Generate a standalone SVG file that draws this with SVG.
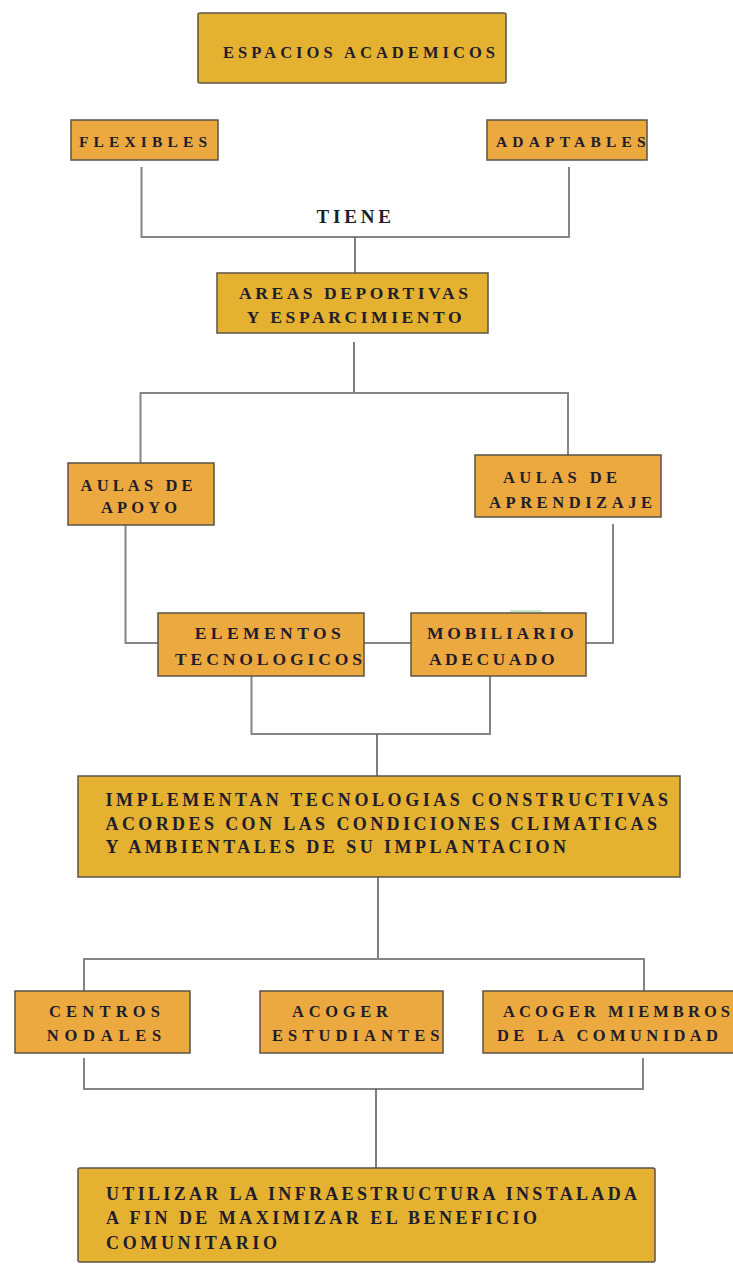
<svg xmlns="http://www.w3.org/2000/svg" width="733" height="1267" viewBox="0 0 733 1267">
  <style>
    .gold { fill: #E4B131; stroke: #5b5346; stroke-width: 1.5; }
    .orange { fill: #EBA940; stroke: #5b5346; stroke-width: 1.5; }
    .lbl { font-family: "Liberation Serif", "Times New Roman", serif; font-weight: bold; fill: #1f1d2b; }
    .conn { fill: none; stroke: #858585; stroke-width: 2; }
    .stem { fill: none; stroke: #5e5e5e; stroke-width: 1.6; }
  </style>
  <rect width="733" height="1267" fill="#ffffff"/>

  <!-- connectors -->
  <g id="connectors">
    <polyline class="conn" points="141.5,167 141.5,237 569,237 569,167"/>
    <line class="stem" x1="355" y1="237" x2="355" y2="273"/>

    <line class="stem" x1="354" y1="342" x2="354" y2="393"/>
    <polyline class="conn" points="140.5,463 140.5,393 568,393 568,455"/>

    <polyline class="conn" points="125.5,525 125.5,643 158,643"/>
    <line class="conn" x1="364" y1="643" x2="411" y2="643"/>
    <polyline class="conn" points="613,524 613,643 586,643"/>

    <polyline class="conn" points="251.5,676 251.5,734 490,734 490,676"/>
    <line class="stem" x1="377" y1="734" x2="377" y2="776"/>

    <line class="stem" x1="378" y1="877" x2="378" y2="959"/>
    <polyline class="conn" points="84,991 84,959 644,959 644,991"/>

    <polyline class="conn" points="84,1058 84,1089 643,1089 643,1058"/>
    <line class="stem" x1="376" y1="1089" x2="376" y2="1168"/>

    <text class="lbl" x="316.4" y="223" font-size="19" textLength="74.6" lengthAdjust="spacing">TIENE</text>
  </g>

  <g id="espacios">
    <rect class="gold" x="198" y="13" width="308" height="70" rx="2"/>
    <text class="lbl" x="223" y="57.5" font-size="16.5" textLength="272" lengthAdjust="spacing">ESPACIOS ACADEMICOS</text>
  </g>

  <g id="flexibles">
    <rect class="orange" x="71" y="120" width="147" height="40"/>
    <text class="lbl" x="79" y="147" font-size="15.5" textLength="128" lengthAdjust="spacing">FLEXIBLES</text>
  </g>

  <g id="adaptables">
    <rect class="orange" x="487" y="120" width="160" height="40"/>
    <text class="lbl" x="496" y="147" font-size="15.5" textLength="149.5" lengthAdjust="spacing">ADAPTABLES</text>
  </g>

  <g id="areas">
    <rect class="gold" x="217" y="273" width="271" height="60"/>
    <text class="lbl" x="239" y="299" font-size="17.5" textLength="229" lengthAdjust="spacing">AREAS DEPORTIVAS</text>
    <text class="lbl" x="246.7" y="323" font-size="17.5" textLength="215" lengthAdjust="spacing">Y ESPARCIMIENTO</text>
  </g>

  <g id="aulas-apoyo">
    <rect class="orange" x="68" y="463" width="146" height="62"/>
    <text class="lbl" x="80.6" y="490.5" font-size="16.5" textLength="112" lengthAdjust="spacing">AULAS DE</text>
    <text class="lbl" x="101" y="513" font-size="16.5" textLength="76" lengthAdjust="spacing">APOYO</text>
  </g>

  <g id="aulas-aprendizaje">
    <rect class="orange" x="475" y="455" width="186" height="62"/>
    <text class="lbl" x="503" y="482.5" font-size="16.5" textLength="114" lengthAdjust="spacing">AULAS DE</text>
    <text class="lbl" x="489" y="507.5" font-size="16.5" textLength="163" lengthAdjust="spacing">APRENDIZAJE</text>
  </g>

  <g id="elementos">
    <rect class="orange" x="158" y="613" width="206" height="63"/>
    <text class="lbl" x="194.7" y="639" font-size="17.5" textLength="146" lengthAdjust="spacing">ELEMENTOS</text>
    <text class="lbl" x="175" y="665" font-size="17.5" textLength="187" lengthAdjust="spacing">TECNOLOGICOS</text>
  </g>

  <g id="mobiliario">
    <rect class="orange" x="411" y="613" width="175" height="63"/>
    <line x1="510" y1="611" x2="541" y2="611" stroke="#8fd68a" stroke-width="1"/>
    <text class="lbl" x="427" y="639" font-size="17.5" textLength="146.5" lengthAdjust="spacing">MOBILIARIO</text>
    <text class="lbl" x="429" y="665" font-size="17.5" textLength="125.5" lengthAdjust="spacing">ADECUADO</text>
  </g>

  <g id="implementan">
    <rect class="gold" x="78" y="776" width="602" height="101"/>
    <text class="lbl" x="105.5" y="806" font-size="18" textLength="562.5" lengthAdjust="spacing">IMPLEMENTAN TECNOLOGIAS CONSTRUCTIVAS</text>
    <text class="lbl" x="105.5" y="829.5" font-size="18" textLength="551.5" lengthAdjust="spacing">ACORDES CON LAS CONDICIONES CLIMATICAS</text>
    <text class="lbl" x="105.5" y="853" font-size="18" textLength="460.5" lengthAdjust="spacing">Y AMBIENTALES DE SU IMPLANTACION</text>
  </g>

  <g id="centros">
    <rect class="orange" x="15" y="991" width="175" height="62"/>
    <text class="lbl" x="49" y="1017" font-size="16.5" textLength="111" lengthAdjust="spacing">CENTROS</text>
    <text class="lbl" x="46.8" y="1041" font-size="16.5" textLength="114.5" lengthAdjust="spacing">NODALES</text>
  </g>

  <g id="acoger-estudiantes">
    <rect class="orange" x="260" y="991" width="183" height="62"/>
    <text class="lbl" x="292" y="1017" font-size="16.5" textLength="96" lengthAdjust="spacing">ACOGER</text>
    <text class="lbl" x="272" y="1041" font-size="16.5" textLength="167.5" lengthAdjust="spacing">ESTUDIANTES</text>
  </g>

  <g id="acoger-miembros">
    <rect class="orange" x="483" y="991" width="262" height="62"/>
    <text class="lbl" x="503" y="1017" font-size="16.5" textLength="227" lengthAdjust="spacing">ACOGER MIEMBROS</text>
    <text class="lbl" x="497" y="1041" font-size="16.5" textLength="221" lengthAdjust="spacing">DE LA COMUNIDAD</text>
  </g>

  <g id="utilizar">
    <rect class="gold" x="78" y="1168" width="577" height="94" rx="2"/>
    <text class="lbl" x="106" y="1200" font-size="18" textLength="531" lengthAdjust="spacing">UTILIZAR LA INFRAESTRUCTURA INSTALADA</text>
    <text class="lbl" x="106" y="1224" font-size="18" textLength="431" lengthAdjust="spacing">A FIN DE MAXIMIZAR EL BENEFICIO</text>
    <text class="lbl" x="106" y="1249" font-size="18" textLength="171" lengthAdjust="spacing">COMUNITARIO</text>
  </g>
</svg>
